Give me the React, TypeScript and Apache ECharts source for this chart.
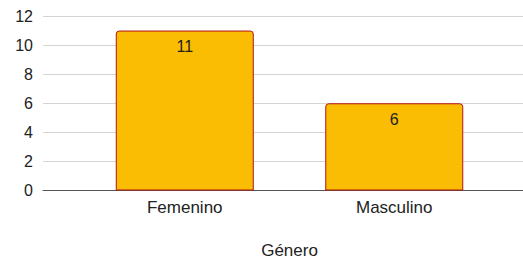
import React, { useEffect, useRef } from "react";
import * as echarts from "echarts";

const categories = ["Femenino", "Masculino"];
const values = [11, 6];
const axisName = "Género";
const yMin = 0;
const yMax = 12;
const yStep = 2;

export default function App() {
  const ref = useRef<HTMLDivElement>(null);
  useEffect(() => {
    if (!ref.current) return;
    const chart = echarts.init(ref.current, null, { renderer: "svg" });
    const font = "Liberation Sans, Arial, sans-serif";
    chart.setOption({
      animation: false,
      textStyle: { fontFamily: font },
      grid: [
        { left: 80, right: 24, top: 16, bottom: 67.5, outerBoundsMode: "none", containLabel: false },
        { left: 43, right: 0, top: 16, bottom: 67.5, outerBoundsMode: "none", containLabel: false },
      ],
      xAxis: [
        {
          type: "category",
          gridIndex: 0,
          data: categories,
          axisLine: { show: false },
          axisTick: { show: false },
          axisLabel: { color: "#222", fontSize: 17, margin: 8, fontFamily: font },
          name: axisName,
          nameLocation: "middle",
          nameGap: 51,
          nameTextStyle: { color: "#222", fontSize: 17, fontFamily: font },
        },
        {
          type: "value",
          gridIndex: 1,
          min: 0,
          max: 1,
          axisLine: { show: true, lineStyle: { color: "#555", width: 1 } },
          axisTick: { show: false },
          axisLabel: { show: false },
          splitLine: { show: false },
        },
      ],
      yAxis: [
        {
          type: "value",
          gridIndex: 0,
          min: yMin,
          max: yMax,
          interval: yStep,
          axisLabel: { show: false },
          splitLine: { show: false },
          axisLine: { show: false },
          axisTick: { show: false },
        },
        {
          type: "value",
          gridIndex: 1,
          min: yMin,
          max: yMax,
          interval: yStep,
          axisLine: { show: false },
          axisTick: { show: false },
          axisLabel: { color: "#222", fontSize: 16, margin: 10, fontFamily: font, padding: [5, 0, 0, 0] },
          splitLine: { show: true, lineStyle: { color: "#d4d4d4", width: 1 } },
        },
      ],
      series: [
        {
          type: "bar",
          xAxisIndex: 0,
          yAxisIndex: 0,
          data: values,
          barWidth: 138,
          itemStyle: {
            color: "#FBBC04",
            borderColor: "#B31412",
            borderWidth: 1,
            borderRadius: [3, 3, 0, 0],
          },
          label: {
            show: true,
            position: "insideTop",
            distance: 8,
            color: "#222",
            fontSize: 16,
            fontFamily: font,
          },
        },
      ],
    });
    return () => chart.dispose();
  }, []);
  return <div ref={ref} style={{ width: 523, height: 258, position: "absolute", left: 0, top: 0 }} />;
}
